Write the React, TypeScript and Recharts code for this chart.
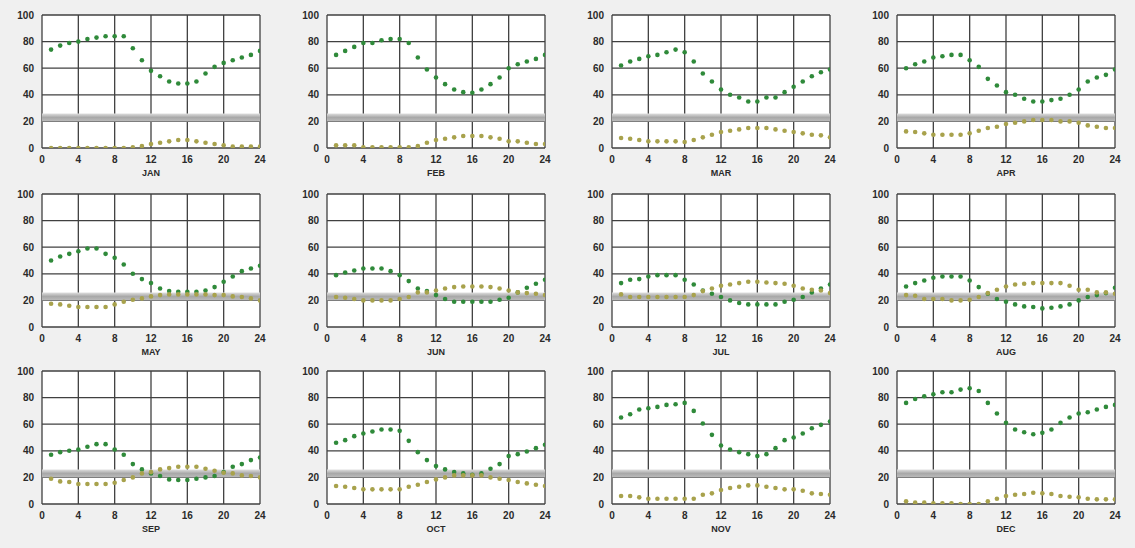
import { ScatterChart, Scatter, XAxis, YAxis, CartesianGrid, ReferenceArea, Label } from "recharts";

const MONTHS = ["JAN", "FEB", "MAR", "APR", "MAY", "JUN", "JUL", "AUG", "SEP", "OCT", "NOV", "DEC"];
const HOURS = [1, 2, 3, 4, 5, 6, 7, 8, 9, 10, 11, 12, 13, 14, 15, 16, 17, 18, 19, 20, 21, 22, 23, 24];
const X_TICKS = [0, 4, 8, 12, 16, 20, 24];
const Y_TICKS = [0, 20, 40, 60, 80, 100];

// green = upper series, olive = lower series (hourly values per month)
const janGreen = [74, 77, 79, 80, 82, 83, 84, 84, 84, 75, 66, 58, 54, 50, 48.5, 48.5, 50, 56, 61, 64, 66, 68, 70, 73];
const janOlive = [0, 0, 0, 0, 0, 0, 0, 0, 0, 0.5, 1.5, 3, 4, 5, 6, 6, 5, 4, 3, 2, 1, 1, 1, 1];
const febGreen = [70, 73, 76, 79, 79, 81, 82, 82, 79, 68, 59, 53, 48, 44, 42, 41.5, 44, 48, 53, 60, 63, 65, 67, 70];
const febOlive = [2, 2, 2, 0.5, 0.5, 0.5, 0.5, 0.5, 0.5, 1.5, 4, 6, 7, 8, 9, 9, 9, 8, 7, 5, 5, 4, 3, 3];
const marGreen = [62, 65, 67, 69, 70, 72, 74, 72, 65, 56, 50, 44, 40, 38, 35, 35, 38, 38, 42, 46, 50, 54, 57, 59];
const marOlive = [7.5, 7, 6, 5, 5, 5, 5, 4.5, 6, 8, 10, 12, 13, 14, 15, 15, 15, 14, 13, 12, 11, 10, 9.5, 8];
const aprGreen = [60, 63, 65, 68, 69, 70, 70, 66, 61, 52, 47, 42, 40, 37, 35, 35, 36, 37, 40, 44, 50, 53, 55, 59];
const aprOlive = [12.5, 12, 11, 10, 10, 10, 10, 11, 13, 15, 16, 18, 19, 20, 21, 21, 21, 20, 20, 19, 17, 16, 15, 15];
const mayGreen = [50, 53, 55, 57, 59, 59, 55, 52, 47, 40, 36, 33, 29, 27, 26.5, 26.5, 26.5, 27.5, 30, 34, 38, 42, 44, 46];
const mayOlive = [17.5, 17, 16, 15, 15, 15, 15, 17, 19, 20.5, 21.5, 23, 24, 24.5, 24.5, 24.5, 24.5, 24.5, 24, 24, 23, 22.5, 21.5, 20];
const junGreen = [39, 41, 42.5, 44, 44, 44, 42, 39, 34.5, 29, 27, 24, 21, 19, 19, 19, 19, 19, 20.5, 22, 26, 29.5, 32.5, 35.5];
const junOlive = [22.5, 22, 21, 20, 20, 20, 20, 21, 22.5, 26, 26, 27.5, 29, 30, 30.5, 30.5, 30.5, 30, 29, 27.5, 26, 25.5, 25, 24];
const julGreen = [33, 35.5, 36, 38, 39, 39, 39, 35.5, 32, 27.5, 25, 22.5, 20, 18, 17, 17, 17, 17, 19, 20.5, 22.5, 26, 29, 32];
const julOlive = [24.5, 22.5, 22.5, 22.5, 22.5, 22.5, 22.5, 22.5, 24, 27, 29, 31, 32, 33, 34, 34, 33.5, 33, 32.5, 31, 29, 28, 27.5, 25.5];
const augGreen = [30.5, 33, 35, 37, 38, 38, 38, 35, 30, 25, 21, 19, 17, 15.5, 15, 14, 14.5, 15.5, 17, 20, 22.5, 24, 25.5, 29.5];
const augOlive = [24, 23.5, 21, 21, 21, 20, 20, 20.5, 22.5, 25.5, 28, 30.5, 32, 32.5, 33, 33, 33, 33, 31, 28, 28, 26, 26, 25];
const sepGreen = [37, 39, 40, 41, 43, 45, 45, 41, 37, 30, 26, 23, 21, 18.5, 18, 18, 19, 20, 21, 24, 28, 30, 33, 35];
const sepOlive = [19, 17, 16.5, 15, 15, 15, 15, 16, 18, 20, 23, 24, 26, 27, 28, 28, 28, 26.5, 25, 23.5, 23, 21.5, 21, 20];
const octGreen = [46, 48, 51, 53, 54.5, 56, 56, 55, 47.5, 39, 33, 28.5, 26, 24, 23, 22, 23, 26.5, 30, 36, 37.5, 39.5, 42, 44.5];
const octOlive = [13.5, 13, 12, 11, 11, 11, 11, 11, 13, 14.5, 16.5, 18.5, 20, 21.5, 21.5, 21.5, 21.5, 20, 19, 18, 16.5, 15.5, 14.5, 13.5];
const novGreen = [65, 67.5, 71, 72, 73, 74.5, 75, 76, 70, 60.5, 52, 44, 41, 39, 37.5, 36, 37.5, 42, 48, 50, 53, 57, 59.5, 62];
const novOlive = [6, 6, 5, 4, 4, 4, 4, 4, 4, 7, 8, 10.5, 12, 13, 14, 14, 13, 12, 11, 11, 10, 8, 7.5, 7];
const decGreen = [76, 79, 81, 82.5, 84, 84, 86, 87, 85, 76, 68, 61, 56, 54, 52.5, 53.5, 56, 61, 65, 68, 69, 71, 73, 74.5];
const decOlive = [2, 1, 1, 0.5, 0.5, 0.5, 0, 0, 0, 2, 4, 6, 7, 7.5, 8.5, 8, 7.5, 6, 5.5, 5, 4, 3.5, 3.5, 3.5];

const GREEN = [janGreen, febGreen, marGreen, aprGreen, mayGreen, junGreen, julGreen, augGreen, sepGreen, octGreen, novGreen, decGreen];
const OLIVE = [janOlive, febOlive, marOlive, aprOlive, mayOlive, junOlive, julOlive, augOlive, sepOlive, octOlive, novOlive, decOlive];

const COL_LEFT = [0, 285, 570, 855];
const ROW_TOP = [0, 179, 356];

const tickStyle = { fontSize: 10, fontWeight: 700, fill: "#2a2a2a", fontFamily: "Liberation Sans, Arial, sans-serif" };

const dot = (color: string) => (props: any) =>
  <circle cx={props.cx} cy={props.cy} r={2.3} fill={color} />;

function MonthPanel({ idx }: { idx: number }) {
  const month = MONTHS[idx];
  const gid = `band-${month}`;
  const green = HOURS.map((h, i) => ({ x: h, y: GREEN[idx][i] }));
  const olive = HOURS.map((h, i) => ({ x: h, y: OLIVE[idx][i] }));
  return (
    <div style={{ position: "absolute", left: COL_LEFT[idx % 4], top: ROW_TOP[Math.floor(idx / 4)] }}>
      <ScatterChart width={285} height={178} margin={{ top: 15, right: 25, bottom: 0, left: 0 }}>
        <defs>
          <linearGradient id={gid} x1="0" y1="0" x2="0" y2="1">
            <stop offset="0%" stopColor="#e0e0e0" />
            <stop offset="50%" stopColor="#a8a8a8" />
            <stop offset="100%" stopColor="#bcbcbc" />
          </linearGradient>
        </defs>
        <CartesianGrid fill="#ffffff" stroke="#404040" strokeWidth={1.3} />
        <ReferenceArea y1={20} y2={26} fill={`url(#${gid})`} fillOpacity={1} stroke="none" />
        <XAxis
          type="number"
          dataKey="x"
          domain={[0, 24]}
          ticks={X_TICKS}
          interval={0}
          tickLine={false}
          axisLine={false}
          tick={tickStyle}
          height={30}
          allowDataOverflow
        >
          <Label value={month} position="insideBottom" offset={2} style={{ ...tickStyle, fontSize: 9 }} />
        </XAxis>
        <YAxis
          type="number"
          dataKey="y"
          domain={[0, 100]}
          ticks={Y_TICKS}
          interval={0}
          tickLine={false}
          axisLine={false}
          width={42}
          tick={tickStyle}
          allowDataOverflow
        />
        <Scatter data={green} fill="#2f8a3a" shape={dot("#2f8a3a")} isAnimationActive={false} />
        <Scatter data={olive} fill="#a8a24c" shape={dot("#a8a24c")} isAnimationActive={false} />
      </ScatterChart>
    </div>
  );
}

export default function App() {
  return (
    <div
      style={{
        position: "absolute",
        left: 0,
        top: 0,
        width: 1135,
        height: 548,
        background: "#f0f0f0",
        overflow: "hidden",
      }}
    >
      {MONTHS.map((m, i) => (
        <MonthPanel key={m} idx={i} />
      ))}
    </div>
  );
}
